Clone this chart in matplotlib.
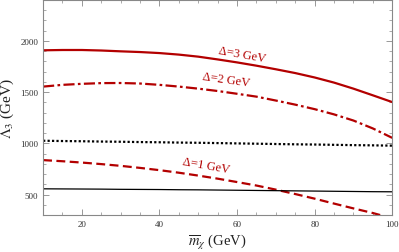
import numpy as np
import matplotlib
matplotlib.use("Agg")
import matplotlib.pyplot as plt
from matplotlib.ticker import MultipleLocator

plt.rcParams['font.family'] = ['Liberation Serif', 'DejaVu Serif']
plt.rcParams['mathtext.fontset'] = 'stix'

mx = [10, 15, 20, 25, 30, 35, 40, 45, 50, 55, 60, 65, 70, 75, 80, 85, 90, 95, 100]
lam_d3 = [1907, 1910, 1910, 1905, 1897, 1890, 1880, 1865, 1845, 1818, 1789,
          1757, 1722, 1685, 1642, 1592, 1533, 1468, 1402]
lam_d2 = [1553, 1570, 1580, 1587, 1588, 1583, 1570, 1553, 1533, 1510, 1483,
          1455, 1417, 1377, 1333, 1282, 1222, 1145, 1053]
lam_dot = [1025, 1022, 1020, 1017, 1015, 1012, 1010, 1007, 1005, 1002, 999,
           996, 993, 990, 988, 985, 982, 980, 977]
mx_d1 = [10, 15, 20, 25, 30, 35, 40, 45, 50, 55, 60, 65, 70, 75, 80, 85, 90, 95, 96.9]
lam_d1 = [836, 825, 812, 797, 780, 760, 738, 713, 685, 655, 622, 588, 548,
          505, 460, 412, 365, 320, 300]
lam_black = [556, 555, 554, 553, 551, 550, 549, 547, 546, 544, 542, 540, 538,
             536, 534, 532, 530, 528, 527]

labels = ["Δ=3 GeV", "Δ=2 GeV", "Δ=1 GeV"]
label_pos = [(61.3, 1870), (57.2, 1625), (52.1, 785)]
label_rot = [-10, -8, -10]

red = '#b30000'
fig = plt.figure(figsize=(3.99, 2.53), dpi=100)
ax = fig.add_axes([0.108, 0.146, 0.875, 0.851])

ax.plot(mx, lam_d3, color=red, lw=1.6, solid_capstyle='butt')
ax.plot(mx, lam_d2, color=red, lw=1.6, dashes=(5, 1.5, 1.2, 1.5))
ax.plot(mx, lam_dot, color='black', lw=1.6, dashes=(1, 1))
ax.plot(mx_d1, lam_d1, color=red, lw=1.6, dashes=(4, 2))
ax.plot(mx, lam_black, color='black', lw=0.9)

for t, (x, y), r in zip(labels, label_pos, label_rot):
    ax.text(x, y, t, color=red, fontsize=9, rotation=r, ha='center', va='center')

ax.set_xlim(10, 100)
ax.set_ylim(300, 2400)
ax.set_xticks([20, 40, 60, 80, 100])
ax.set_yticks([500, 1000, 1500, 2000])
ax.xaxis.set_minor_locator(MultipleLocator(5))
ax.yaxis.set_minor_locator(MultipleLocator(100))
ax.tick_params(which='both', direction='in', top=True, right=True, labelsize=6.5,
               colors='#888888', labelcolor='#333333')
ax.tick_params(which='major', length=4, width=0.6)
ax.tick_params(which='minor', length=2.2, width=0.5)
for s in ax.spines.values():
    s.set_color('#888888')
    s.set_linewidth(0.8)

ax.set_xlabel(r'$\overline{m}_{\chi}$ (GeV)', fontsize=10.5, color='#222222', labelpad=3)
ax.set_ylabel(r'$\Lambda_3$ (GeV)', fontsize=11, color='#222222', labelpad=3)

fig.savefig('out.png', dpi=100)
